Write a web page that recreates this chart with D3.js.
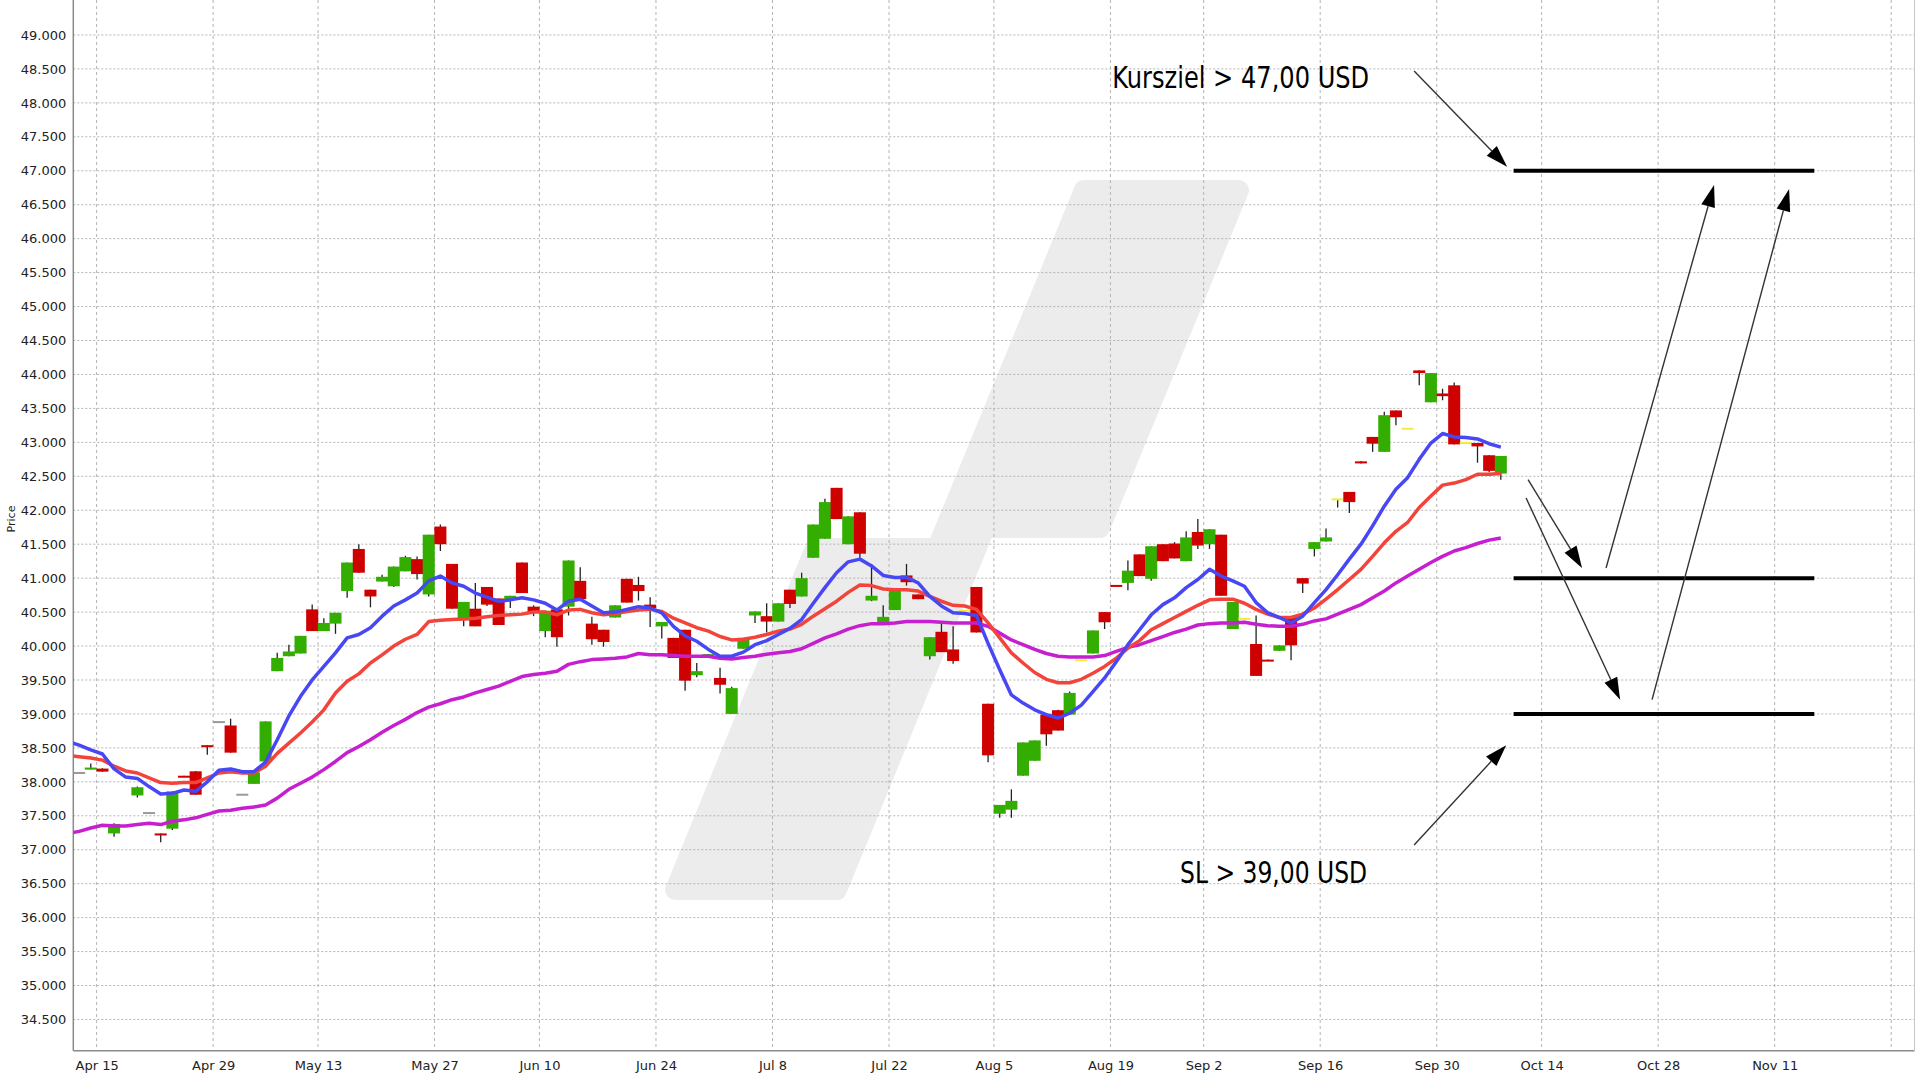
<!DOCTYPE html>
<html>
<head>
<meta charset="utf-8">
<script src="https://cdn.jsdelivr.net/npm/d3@7/dist/d3.min.js"></script>
<style>
  html, body { margin: 0; padding: 0; background: #fff; }
  #chart { width: 1920px; height: 1080px; }
  text { font-family: "DejaVu Sans", sans-serif; }
</style>
</head>
<body>
<div id="chart"></div>
<script>
// trading-day slot of each candle (0 = Apr 15)
var days = [-2, -1, 0, 1, 3, 4, 5, 6, 7, 8, 9, 10, 11, 12, 13, 14, 15, 16, 17, 18, 19, 20,
    21, 22, 23, 24, 25, 26, 27, 28, 29, 30, 31, 32, 33, 34, 35, 36, 37, 38, 39, 40,
    41, 42, 43, 44, 45, 46, 47, 48, 49, 50, 51, 52, 53, 54, 55, 56, 57, 58, 59, 60,
    61, 62, 63, 64, 65, 66, 67, 68, 69, 70, 71, 72, 73, 74, 75, 76, 77, 78, 79, 80,
    81, 82, 83, 84, 85, 86, 87, 88, 89, 90, 91, 92, 93, 94, 95, 96, 97, 98, 99, 100,
    101, 102, 103, 104, 105, 106, 107, 108, 109, 110, 111, 112, 113, 114, 115, 116, 117, 118, 119, 120];

var opens = [38.13, 38.18, 38.195, 37.24, 37.80, 37.54, 37.24, 37.31, 38.09, 38.155, 38.54, 38.88, 38.83, 37.81, 37.97, 38.30, 39.63, 39.85, 39.89, 40.54, 40.22, 40.33,
    40.81, 41.43, 40.83, 40.95, 40.88, 41.10, 41.28, 40.76, 41.76, 41.21, 40.38, 40.55, 40.87, 40.70, 40.69, 41.23, 40.58, 40.22, 40.54, 40.58,
    40.96, 40.33, 40.24, 40.42, 40.99, 40.90, 40.61, 40.29, 40.12, 40.24, 39.57, 39.85, 39.53, 39.00, 39.96, 40.45, 40.44, 40.36, 40.83, 40.73,
    41.30, 41.58, 42.33, 41.50, 41.97, 40.67, 40.35, 40.53, 41.04, 40.76, 39.85, 40.21, 39.95, 40.52, 40.87, 39.15, 37.53, 37.59, 38.09, 38.31,
    38.99, 39.055, 38.99, 39.79, 39.89, 40.50, 40.90, 40.93, 41.35, 40.99, 41.50, 41.51, 41.25, 41.68, 41.50, 41.64, 40.25, 40.40, 40.03, 39.80,
    39.93, 40.44, 41.00, 41.43, 41.54, 42.16, 42.27, 42.72, 43.08, 42.86, 43.47, 43.20, 44.06, 43.59, 43.72, 43.84, 42.99, 42.99, 42.81, 42.54];

var highs = [38.13, 38.27, 38.20, 37.39, 37.93, 37.54, 37.24, 37.86, 38.09, 38.16, 38.54, 38.88, 38.93, 37.81, 38.14, 38.89, 39.90, 40.02, 40.15, 40.61, 40.41, 40.49,
    41.23, 41.50, 40.83, 41.05, 41.17, 41.33, 41.32, 41.64, 41.79, 41.21, 40.65, 40.93, 40.87, 40.70, 40.74, 41.23, 40.60, 40.52, 40.54, 41.26,
    41.16, 40.43, 40.24, 40.60, 40.99, 41.02, 40.72, 40.355, 40.12, 40.24, 39.75, 39.88, 39.68, 39.40, 40.12, 40.51, 40.63, 40.63, 40.83, 41.08,
    41.79, 42.17, 42.33, 41.91, 41.97, 41.21, 40.60, 40.82, 41.21, 40.76, 40.13, 40.34, 40.29, 40.52, 40.87, 39.15, 37.66, 37.89, 38.58, 38.61,
    38.99, 39.06, 39.33, 39.79, 40.23, 40.50, 40.90, 41.26, 41.35, 41.47, 41.50, 41.53, 41.69, 41.87, 41.72, 41.64, 40.65, 40.40, 40.45, 39.80,
    40.01, 40.44, 41.00, 41.53, 41.73, 42.16, 42.27, 42.72, 43.08, 43.45, 43.47, 43.20, 44.06, 44.02, 43.79, 43.88, 42.99, 42.99, 42.81, 42.80];

var lows = [38.13, 38.18, 38.15, 37.19, 37.77, 37.54, 37.11, 37.29, 38.07, 37.81, 38.40, 38.88, 38.43, 37.81, 37.97, 38.30, 39.63, 39.85, 39.89, 40.22, 40.22, 40.18,
    40.71, 41.08, 40.57, 40.95, 40.87, 41.10, 40.98, 40.73, 41.40, 40.55, 40.29, 40.29, 40.59, 40.31, 40.56, 40.78, 40.44, 40.13, 39.99, 40.45,
    40.69, 40.02, 39.99, 40.42, 40.64, 40.67, 40.28, 40.11, 39.825, 39.34, 39.54, 39.85, 39.30, 39.00, 39.96, 40.34, 40.20, 40.36, 40.56, 40.73,
    41.30, 41.58, 41.87, 41.50, 41.30, 40.66, 40.35, 40.53, 40.89, 40.69, 39.80, 39.91, 39.74, 40.52, 40.20, 38.29, 37.47, 37.47, 38.09, 38.31,
    38.53, 38.755, 38.99, 39.79, 39.89, 40.25, 40.88, 40.82, 41.03, 40.96, 41.25, 41.29, 41.25, 41.43, 41.43, 40.74, 40.25, 40.40, 39.56, 39.78,
    39.93, 39.79, 40.78, 41.32, 41.54, 42.04, 41.96, 42.69, 42.86, 42.86, 43.25, 43.20, 43.84, 43.59, 43.62, 42.97, 42.99, 42.70, 42.56, 42.45];

var closes = [38.13, 38.21, 38.15, 37.38, 37.92, 37.54, 37.21, 37.86, 38.07, 37.81, 38.51, 38.88, 38.43, 37.81, 38.14, 38.89, 39.825, 39.92, 40.15, 40.22, 40.34, 40.49,
    41.23, 41.08, 40.73, 41.02, 41.17, 41.31, 41.06, 41.64, 41.50, 40.55, 40.65, 40.29, 40.61, 40.31, 40.74, 40.78, 40.49, 40.52, 40.13, 41.26,
    40.69, 40.10, 40.06, 40.60, 40.64, 40.81, 40.56, 40.355, 39.825, 39.49, 39.63, 39.88, 39.43, 39.38, 40.12, 40.51, 40.36, 40.63, 40.62, 41.00,
    41.79, 42.12, 41.87, 41.91, 41.36, 40.74, 40.43, 40.82, 40.94, 40.69, 40.13, 39.91, 39.78, 40.52, 40.20, 38.39, 37.66, 37.72, 38.58, 38.61,
    38.70, 38.755, 39.31, 39.79, 40.23, 40.35, 40.88, 41.11, 41.03, 41.47, 41.25, 41.29, 41.60, 41.48, 41.72, 40.74, 40.65, 40.40, 39.56, 39.78,
    40.01, 40.01, 40.92, 41.53, 41.60, 42.16, 42.12, 42.69, 42.98, 43.40, 43.37, 43.20, 44.02, 44.02, 43.68, 42.97, 42.99, 42.94, 42.58, 42.80];

// flat days drawn grey, other flat days yellow
var unchangedDays = [-2, 4, 10, 12];

// moving averages, one value per slot from -3 to 120
var maDays = d3.range(-3, 121);
var maShort = [38.60, 38.54, 38.47, 38.41, 38.19, 38.07, 38.05, 37.93, 37.82, 37.83, 37.88, 37.86, 38.00, 38.17, 38.19, 38.15, 38.15, 38.29, 38.62, 38.97,
    39.26, 39.50, 39.70, 39.90, 40.12, 40.17, 40.27, 40.44, 40.59, 40.68, 40.78, 40.96, 41.03, 40.93, 40.88, 40.78, 40.72, 40.66, 40.68, 40.71,
    40.68, 40.63, 40.53, 40.66, 40.69, 40.59, 40.49, 40.50, 40.54, 40.58, 40.56, 40.49, 40.29, 40.15, 40.07, 39.95, 39.85, 39.85, 39.91, 40.02,
    40.08, 40.17, 40.26, 40.39, 40.63, 40.86, 41.08, 41.24, 41.28, 41.18, 41.04, 41.01, 41.01, 40.93, 40.73, 40.59, 40.49, 40.48, 40.45, 40.04,
    39.65, 39.28, 39.16, 39.06, 38.99, 38.94, 39.01, 39.13, 39.33, 39.53, 39.77, 40.02, 40.24, 40.46, 40.61, 40.71, 40.86, 40.98, 41.13, 41.03,
    40.96, 40.88, 40.64, 40.49, 40.42, 40.34, 40.44, 40.64, 40.83, 41.05, 41.28, 41.50, 41.77, 42.06, 42.31, 42.48, 42.75, 42.99, 43.13, 43.08,
    43.07, 43.05, 42.98, 42.93];
var maMid = [38.39, 38.37, 38.35, 38.32, 38.23, 38.16, 38.13, 38.06, 37.99, 37.98, 37.99, 37.99, 38.06, 38.13, 38.15, 38.13, 38.13, 38.23, 38.42, 38.57,
    38.72, 38.88, 39.06, 39.31, 39.48, 39.59, 39.75, 39.87, 40.00, 40.10, 40.17, 40.36, 40.38, 40.39, 40.40, 40.41, 40.43, 40.45, 40.46, 40.47,
    40.50, 40.50, 40.46, 40.53, 40.54, 40.49, 40.46, 40.48, 40.51, 40.53, 40.54, 40.51, 40.41, 40.34, 40.27, 40.22, 40.14, 40.09, 40.10, 40.13,
    40.17, 40.22, 40.25, 40.32, 40.44, 40.55, 40.66, 40.79, 40.90, 40.89, 40.84, 40.83, 40.83, 40.81, 40.73, 40.66, 40.60, 40.59, 40.54, 40.34,
    40.12, 39.90, 39.75, 39.61, 39.51, 39.46, 39.46, 39.51, 39.60, 39.70, 39.82, 39.97, 40.08, 40.24, 40.33, 40.42, 40.51, 40.60, 40.68, 40.69,
    40.69, 40.63, 40.54, 40.47, 40.42, 40.42, 40.47, 40.56, 40.69, 40.83, 40.98, 41.13, 41.32, 41.52, 41.69, 41.82, 42.04, 42.21, 42.37, 42.40,
    42.45, 42.53, 42.53, 42.54];
var maLong = [37.24, 37.27, 37.32, 37.36, 37.35, 37.35, 37.37, 37.39, 37.37, 37.42, 37.44, 37.47, 37.52, 37.57, 37.58, 37.61, 37.63, 37.66, 37.76, 37.89,
    37.98, 38.07, 38.18, 38.30, 38.43, 38.52, 38.62, 38.73, 38.83, 38.92, 39.02, 39.10, 39.15, 39.21, 39.25, 39.31, 39.36, 39.41, 39.48, 39.55,
    39.58, 39.60, 39.63, 39.73, 39.77, 39.80, 39.81, 39.82, 39.84, 39.89, 39.87, 39.87, 39.86, 39.85, 39.85, 39.85, 39.82, 39.81, 39.83, 39.85,
    39.88, 39.90, 39.92, 39.96, 40.04, 40.12, 40.18, 40.25, 40.30, 40.33, 40.33, 40.34, 40.36, 40.36, 40.36, 40.35, 40.34, 40.34, 40.34, 40.29,
    40.19, 40.09, 40.02, 39.95, 39.89, 39.85, 39.84, 39.84, 39.84, 39.86, 39.92, 39.98, 40.02, 40.08, 40.14, 40.20, 40.25, 40.31, 40.33, 40.34,
    40.34, 40.35, 40.32, 40.30, 40.29, 40.29, 40.32, 40.37, 40.40, 40.47, 40.54, 40.61, 40.71, 40.81, 40.93, 41.03, 41.13, 41.23, 41.32, 41.40,
    41.45, 41.51, 41.56, 41.59];

var yTicks = [34.5, 35, 35.5, 36, 36.5, 37, 37.5, 38, 38.5, 39, 39.5, 40, 40.5, 41, 41.5, 42, 42.5, 43, 43.5, 44, 44.5, 45, 45.5, 46, 46.5, 47, 47.5, 48, 48.5, 49];
var xTickDays = [0, 10, 19, 29, 38, 48, 58, 68, 77, 87, 95, 105, 115, 124, 134, 144, 154];
var xTickLabels = ['Apr 15', 'Apr 29', 'May 13', 'May 27', 'Jun 10', 'Jun 24', 'Jul 8', 'Jul 22', 'Aug 5', 'Aug 19', 'Sep 2', 'Sep 16', 'Sep 30', 'Oct 14', 'Oct 28', 'Nov 11', ''];

// price levels drawn on the right, from slot to slot
var levels = [47, 41, 39];
var levelFrom = 121.6, levelTo = 147.4;

// arrows: [fromDay, fromPrice, toDay, toPrice]
var arrows = [
    [113.06, 48.47, 121.04, 47.06],
    [122.84, 42.45, 127.47, 41.15],
    [122.67, 42.18, 130.74, 39.21],
    [129.53, 41.15, 138.80, 46.79],
    [133.48, 39.21, 145.24, 46.73],
    [113.06, 37.07, 120.96, 38.54]
];
var notes = ['Kursziel > 47,00 USD', 'SL > 39,00 USD'];
var noteDays = [87.15, 92.98];
var notePrices = [48.22, 36.51];


var PriceChart = function(objId) {
    this.objId = objId;
    this.width = 1920;
    this.height = 1080;
};

PriceChart.prototype = function() {

    var left = 73.3, right = 1914.5, top = 0, bottom = 1050.7;

    function draw() {
        var svg = d3.select('#' + this.objId).append('svg')
            .attr('width', this.width)
            .attr('height', this.height);

        var x = d3.scaleLinear().domain([-2, 156]).range([left, right]);
        var y = d3.scaleLinear().domain([34.04, 49.515]).range([bottom, top]);
        var slotW = x(1) - x(0);

        svg.append('defs').append('clipPath').attr('id', 'plotClip')
            .append('rect').attr('x', left).attr('y', top)
            .attr('width', right - left).attr('height', bottom - top);

        // watermark
        var mark = [[1084, 190], [1239, 190], [1100, 528], [985, 528], [837, 890],
                    [675, 890], [815, 548], [937, 548]];
        svg.append('path')
            .attr('d', 'M' + mark.join('L') + 'Z')
            .attr('fill', '#ececec')
            .attr('stroke', '#ececec')
            .attr('stroke-width', 20)
            .attr('stroke-linejoin', 'round');

        // grid
        var grid = svg.append('g');
        grid.selectAll('line.h').data(yTicks).enter().append('line')
            .attr('x1', left).attr('x2', right)
            .attr('y1', function(d) { return y(d); })
            .attr('y2', function(d) { return y(d); })
            .attr('stroke', '#b4b4b4').attr('stroke-width', 1)
            .attr('stroke-dasharray', '2,2');
        grid.selectAll('line.v').data(xTickDays).enter().append('line')
            .attr('x1', function(d) { return x(d); })
            .attr('x2', function(d) { return x(d); })
            .attr('y1', top).attr('y2', bottom)
            .attr('stroke', '#b4b4b4').attr('stroke-width', 1)
            .attr('stroke-dasharray', '3,3');

        // axes
        var yAxis = d3.axisLeft(y).tickValues(yTicks).tickFormat(d3.format('.3f')).tickSize(0).tickPadding(7);
        var gy = svg.append('g').attr('transform', 'translate(' + left + ',0)').call(yAxis);
        gy.select('.domain').remove();
        gy.selectAll('text').attr('font-size', 13).attr('fill', '#222')
            .attr('font-family', '"DejaVu Sans", sans-serif');

        var xAxis = d3.axisBottom(x).tickValues(xTickDays)
            .tickFormat(function(d, i) { return xTickLabels[i]; }).tickSize(0).tickPadding(10);
        var gx = svg.append('g').attr('transform', 'translate(0,' + bottom + ')').call(xAxis);
        gx.select('.domain').remove();
        gx.selectAll('text').attr('font-size', 13).attr('fill', '#222')
            .attr('font-family', '"DejaVu Sans", sans-serif');

        svg.append('line').attr('x1', left).attr('x2', left).attr('y1', 0).attr('y2', bottom)
            .attr('stroke', '#8a8a8a').attr('stroke-width', 1.5);
        svg.append('line').attr('x1', left).attr('x2', right).attr('y1', bottom).attr('y2', bottom)
            .attr('stroke', '#8a8a8a').attr('stroke-width', 1.5);
        svg.append('line').attr('x1', right).attr('x2', right).attr('y1', 0).attr('y2', bottom)
            .attr('stroke', '#c8c8c8').attr('stroke-width', 1);

        svg.append('text')
            .attr('transform', 'translate(15,519) rotate(-90)')
            .attr('text-anchor', 'middle')
            .attr('font-size', 11).attr('fill', '#222')
            .text('Price');

        // candles
        var candles = days.map(function(d, i) {
            return { day: d, o: opens[i], h: highs[i], l: lows[i], c: closes[i] };
        });
        var plot = svg.append('g').attr('clip-path', 'url(#plotClip)');
        var cg = plot.selectAll('g.candle').data(candles).enter().append('g');

        cg.append('line')
            .attr('x1', function(d) { return x(d.day + 0.5); })
            .attr('x2', function(d) { return x(d.day + 0.5); })
            .attr('y1', function(d) { return y(d.h); })
            .attr('y2', function(d) { return y(d.l); })
            .attr('stroke', '#222').attr('stroke-width', 1.3);

        cg.append('rect')
            .attr('x', function(d) { return x(d.day + 0.5) - slotW / 2 - 0.2; })
            .attr('width', slotW + 0.4)
            .attr('y', function(d) {
                if (d.o === d.c) return y(d.o) - 1;
                return y(Math.max(d.o, d.c));
            })
            .attr('height', function(d) {
                if (d.o === d.c) return 2;
                return Math.max(2, Math.abs(y(d.o) - y(d.c)));
            })
            .attr('fill', function(d) {
                if (d.o === d.c) return unchangedDays.indexOf(d.day) >= 0 ? '#9a9a9a' : '#f4ec3c';
                return d.c > d.o ? '#33ad00' : '#cf0000';
            });

        // moving averages
        var maLine = function(vals) {
            return d3.line()
                .x(function(d, i) { return x(maDays[i] + 0.5); })
                .y(function(d) { return y(d); })(vals);
        };
        [[maLong, '#c61fd0'], [maMid, '#f2443a'], [maShort, '#4747f4']].forEach(function(s) {
            plot.append('path').attr('d', maLine(s[0]))
                .attr('fill', 'none').attr('stroke', s[1])
                .attr('stroke-width', 3.5).attr('stroke-linejoin', 'round');
        });

        // levels
        svg.selectAll('line.level').data(levels).enter().append('line')
            .attr('x1', x(levelFrom)).attr('x2', x(levelTo))
            .attr('y1', function(d) { return y(d); })
            .attr('y2', function(d) { return y(d); })
            .attr('stroke', '#000').attr('stroke-width', 4);

        // arrows
        arrows.forEach(function(a) {
            var x1 = x(a[0]), y1 = y(a[1]), x2 = x(a[2]), y2 = y(a[3]);
            var ang = Math.atan2(y2 - y1, x2 - x1), len = 22, half = 7;
            var bx = x2 - len * Math.cos(ang), by = y2 - len * Math.sin(ang);
            svg.append('line').attr('x1', x1).attr('y1', y1).attr('x2', bx).attr('y2', by)
                .attr('stroke', '#333').attr('stroke-width', 1.4);
            var pts = [[x2, y2],
                [bx + half * Math.sin(ang), by - half * Math.cos(ang)],
                [bx - half * Math.sin(ang), by + half * Math.cos(ang)]];
            svg.append('path').attr('d', 'M' + pts.join('L') + 'Z').attr('fill', '#000');
        });

        // notes
        var noteLen = [257, 187];
        notes.forEach(function(t, i) {
            svg.append('text')
                .attr('x', x(noteDays[i])).attr('y', y(notePrices[i]))
                .attr('font-family', '"DejaVu Sans Condensed", "DejaVu Sans", sans-serif')
                .attr('font-size', 31).attr('fill', '#000')
                .attr('textLength', noteLen[i]).attr('lengthAdjust', 'spacingAndGlyphs')
                .text(t);
        });
    }

    return {
        draw: draw
    };
}();

new PriceChart('chart').draw();
</script>
</body>
</html>
